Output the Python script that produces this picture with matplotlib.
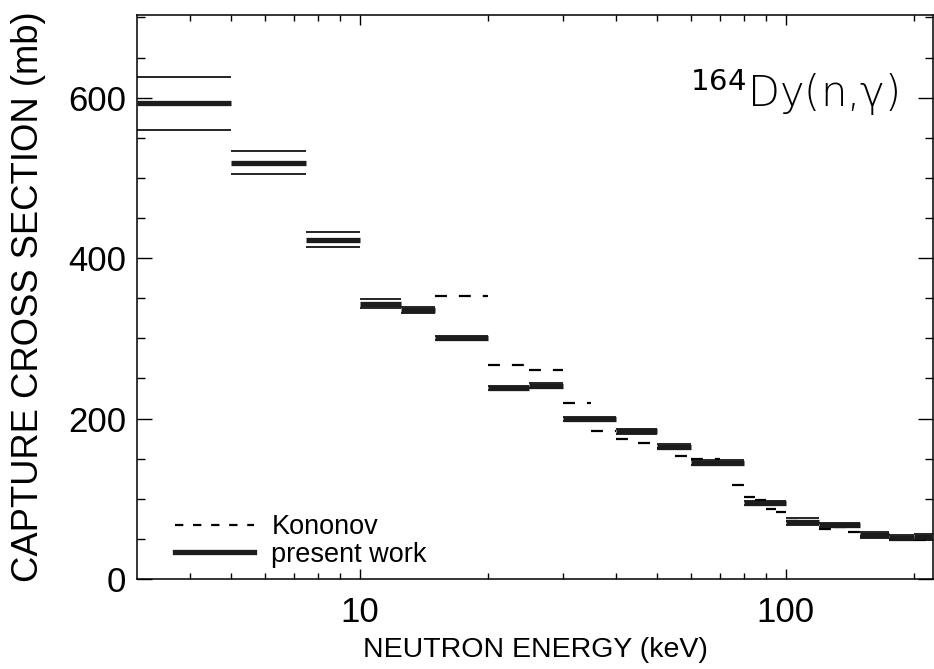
import matplotlib
matplotlib.use("Agg")
import matplotlib.pyplot as plt
from matplotlib.lines import Line2D
from matplotlib.ticker import FixedLocator, MultipleLocator, NullFormatter

plt.rcParams['font.family'] = ['Liberation Sans', 'DejaVu Sans']
plt.rcParams['lines.scale_dashes'] = False

# present work: bin edges (keV), cross section (mb), uncertainty (mb)
present_lo = [3, 5, 7.5, 10, 12.5, 15, 20, 25, 30, 40, 50, 60, 80, 100, 120, 150, 175, 200]
present_hi = [5, 7.5, 10, 12.5, 15, 20, 25, 30, 40, 50, 60, 80, 100, 120, 150, 175, 200, 225]
present_val = [593, 519, 423, 343, 335, 300, 237.5, 241, 199, 184, 165, 145, 95, 71.5, 67, 55, 51.5, 52]
present_err = [33, 14.5, 9, 5.4, 4, 2.5, 2.5, 3, 2.5, 3, 3, 3, 2.5, 4, 2.5, 3.5, 3, 3.5]

# Kononov data
kon_lo = [15, 20, 25, 30, 35, 40, 45, 50, 55, 60, 70, 75, 80, 85, 90, 95, 100, 110, 120, 130, 140, 150, 175, 200]
kon_hi = [20, 25, 30, 35, 40, 45, 50, 55, 60, 70, 75, 80, 85, 90, 95, 100, 110, 120, 130, 140, 150, 175, 200, 225]
kon_val = [353, 267, 260, 219, 185, 175, 170, 163, 153, 150, 145, 117, 102, 98, 87, 84, 72, 70, 62, 65, 58, 54, 50, 48]

fig = plt.figure(figsize=(9.34, 6.69), dpi=100)
ax = fig.add_axes([137 / 934, 90 / 669, 796 / 934, 564 / 669])

dash = (0, (8.6, 8.6))
ax.hlines(kon_val, kon_lo, kon_hi, colors='black', linewidth=1.6,
          linestyles=[dash], zorder=2)

up = [v + e for v, e in zip(present_val, present_err)]
dn = [v - e for v, e in zip(present_val, present_err)]
ax.hlines(up, present_lo, present_hi, colors='black', linewidth=1.2, zorder=3)
ax.hlines(dn, present_lo, present_hi, colors='black', linewidth=1.2, zorder=3)
ax.hlines(present_val, present_lo, present_hi, colors='#1c1c1c', linewidth=3.8, zorder=4)

ax.set_xscale('log')
ax.set_xlim(3, 222)
ax.set_ylim(0, 703)

ax.xaxis.set_major_locator(FixedLocator([10, 100]))
ax.set_xticklabels(['10', '100'])
ax.xaxis.set_minor_locator(FixedLocator([4, 5, 6, 7, 8, 9, 20, 30, 40, 50, 60, 70, 80, 90, 200]))
ax.xaxis.set_minor_formatter(NullFormatter())
ax.yaxis.set_major_locator(FixedLocator([0, 200, 400, 600]))
ax.yaxis.set_minor_locator(MultipleLocator(50))

ax.tick_params(which='both', direction='in', top=True, right=True, width=1.0, labelsize=25)
ax.tick_params(axis='x', which='major', length=7, pad=12)
ax.tick_params(axis='x', which='minor', length=4.5)
ax.tick_params(axis='y', which='major', length=11, pad=8)
ax.tick_params(axis='y', which='minor', length=6)
for s in ax.spines.values():
    s.set_linewidth(1.1)

ax.set_xlabel('NEUTRON ENERGY (keV)', fontsize=20.5, labelpad=6)
ax.set_ylabel('CAPTURE CROSS SECTION (mb)', fontsize=26.2, labelpad=16)

ax.text((898 - 137) / 796, (579 - 107) / 564, '$^{164}$Dy(n,γ)',
        transform=ax.transAxes, ha='right', va='baseline', fontsize=30,
        family='DejaVu Sans', fontweight='light')

handles = [Line2D([], [], color='black', linewidth=1.6, linestyle=(0, (6, 7))),
           Line2D([], [], color='#1c1c1c', linewidth=3.8)]
ax.legend(handles, ['Kononov', 'present work'], loc='lower left',
          bbox_to_anchor=(0.048, 0.02), frameon=False, fontsize=19.5,
          handlelength=2.9, handletextpad=0.65, labelspacing=0.05,
          borderpad=0, borderaxespad=0)

fig.savefig('out.png', dpi=100)
